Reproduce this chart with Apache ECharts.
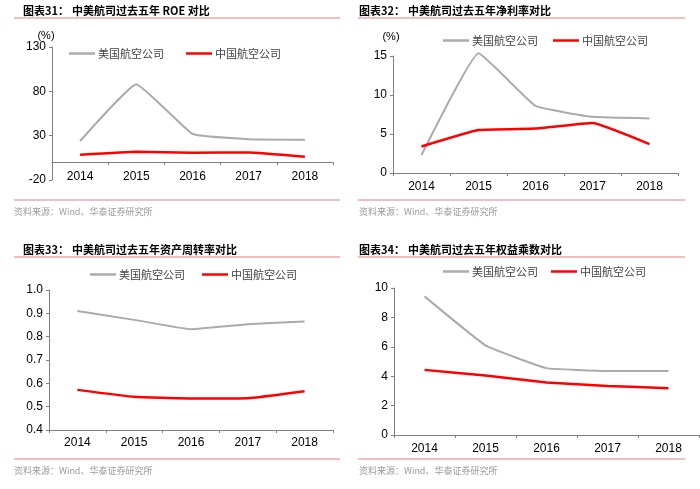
<!DOCTYPE html>
<html>
<head>
<meta charset="utf-8">
<script src="https://cdn.jsdelivr.net/npm/echarts@6/dist/echarts.min.js"></script>
<style>
html,body{margin:0;padding:0;background:#fff;}
#c{width:700px;height:489px;}
</style>
</head>
<body>
<div id="c"></div>
<script>
// ---- data ----
const years = ['2014', '2015', '2016', '2017', '2018'];
const seriesNames = ['美国航空公司', '中国航空公司'];
const roeUS = [24, 88, 32, 26, 25.5];
const roeCN = [8.6, 12, 10.8, 11, 6.3];
const marginUS = [2.3, 15.35, 8.6, 7.2, 7.0];
const marginCN = [3.4, 5.5, 5.7, 6.4, 3.7];
const turnoverUS = [0.91, 0.872, 0.832, 0.853, 0.865];
const turnoverCN = [0.572, 0.542, 0.535, 0.536, 0.566];
const multUS = [9.43, 6.1, 4.55, 4.36, 4.36];
const multCN = [4.43, 4.04, 3.57, 3.34, 3.18];
const roeRange = [-20, 130, 50];
const titles = [
  ['图表31：', '中美航司过去五年 ROE 对比'],
  ['图表32：', '中美航司过去五年净利率对比'],
  ['图表33：', '中美航司过去五年资产周转率对比'],
  ['图表34：', '中美航司过去五年权益乘数对比']
];
const sourceText = '资料来源：Wind、华泰证券研究所';

// ---- styles ----
const GRAY = '#ababab';
const RED = '#ff0000';
const AXIS = '#808080';
const RULE = '#ec7b7b';
const latin = 'Liberation Sans, Arial, sans-serif';
const cjk = '"Noto Sans CJK SC", sans-serif';

const H = 489;
const chart = echarts.init(document.getElementById('c'));

const grids = [
  {left: 52, right: 367, top: 47, bottom: 309},
  {left: 393, right: 22, top: 56, bottom: 316},
  {left: 49, right: 367, top: 290, bottom: 59},
  {left: 394, width: 305, top: 288, bottom: 54}
];
// x axis of panel 1 sits at the value 0 of its y scale
const g0h = H - grids[0].top - grids[0].bottom;
const zeroOffset = -((0 - roeRange[0]) / (roeRange[1] - roeRange[0])) * g0h;

function xAxisBase(gi, margin, offset) {
  return {
    type: 'category', gridIndex: gi, data: years, boundaryGap: true,
    position: 'bottom', offset: offset || 0,
    axisLine: {show: true, onZero: false, lineStyle: {color: AXIS, width: 1}},
    axisTick: {show: true, length: 3, lineStyle: {color: AXIS}},
    axisLabel: {color: '#000', fontFamily: latin, fontSize: 12, margin: margin},
    splitLine: {show: false}
  };
}
const xAxes = [xAxisBase(0, 8, zeroOffset), xAxisBase(1, 8), xAxisBase(2, 7), xAxisBase(3, 8)];

function yAxisBase(gi, min, max, interval, fmt) {
  return {
    type: 'value', gridIndex: gi, min: min, max: max, interval: interval,
    axisLine: {show: true, lineStyle: {color: AXIS, width: 1}},
    axisTick: {show: true, length: 3, lineStyle: {color: AXIS}},
    axisLabel: {color: '#000', fontFamily: latin, fontSize: 12, margin: 6, formatter: fmt},
    splitLine: {show: false}
  };
}
const yAxes = [
  yAxisBase(0, roeRange[0], roeRange[1], roeRange[2]),
  yAxisBase(1, 0, 15, 5),
  yAxisBase(2, 0.4, 1.0, 0.1, v => v.toFixed(1)),
  yAxisBase(3, 0, 10, 2)
];

function lineSeries(name, data, gi, color, width) {
  return {
    type: 'line', name: name, data: data, xAxisIndex: gi, yAxisIndex: gi,
    symbol: 'none', smooth: 0.1, clip: false,
    color: color, itemStyle: {color: color},
    lineStyle: {color: color, width: width}
  };
}
const series = [
  lineSeries(seriesNames[0], roeUS, 0, GRAY, 2),
  lineSeries(seriesNames[1], roeCN, 0, RED, 2.5),
  lineSeries(seriesNames[0], marginUS, 1, GRAY, 2),
  lineSeries(seriesNames[1], marginCN, 1, RED, 2.5),
  lineSeries(seriesNames[0], turnoverUS, 2, GRAY, 2),
  lineSeries(seriesNames[1], turnoverCN, 2, RED, 2.5),
  lineSeries(seriesNames[0], multUS, 3, GRAY, 2),
  lineSeries(seriesNames[1], multCN, 3, RED, 2.5)
];

function legend(left, top, gap) {
  return {
    left: left, top: top, orient: 'horizontal', data: seriesNames,
    icon: 'rect', itemWidth: 26, itemHeight: 2.5, itemGap: gap,
    selectedMode: false, padding: 0,
    textStyle: {fontFamily: cjk, fontSize: 11, color: '#444', padding: [0, 0, 0, -2]}
  };
}
const legends = [
  legend(69, 48, 22),
  legend(443, 35, 15),
  legend(90, 269, 17),
  legend(443, 266, 13)
];

// ---- decoration (titles, rules, source notes) ----
const panels = [
  {x0: 14, x1: 340, tx: 23, mx: 72, ty: 11, rule1: 18, rule2: 200, sy: 212, sx: 14},
  {x0: 358, x1: 685, tx: 359, mx: 408, ty: 11, rule1: 18, rule2: 200, sy: 212, sx: 359},
  {x0: 14, x1: 340, tx: 23, mx: 72, ty: 250, rule1: 257, rule2: 459, sy: 471, sx: 14},
  {x0: 358, x1: 685, tx: 359, mx: 408, ty: 250, rule1: 257, rule2: 459, sy: 471, sx: 359}
];
const graphic = [];
panels.forEach((p, i) => {
  graphic.push({type: 'text', x: p.tx, y: p.ty, style: {text: titles[i][0], font: 'bold 11px ' + cjk, fill: '#000', align: 'left', verticalAlign: 'middle'}});
  graphic.push({type: 'text', x: p.mx, y: p.ty, style: {text: titles[i][1], font: 'bold 11px ' + cjk, fill: '#000', align: 'left', verticalAlign: 'middle'}});
  graphic.push({type: 'line', shape: {x1: p.x0, y1: p.rule1, x2: p.x1, y2: p.rule1}, style: {stroke: RULE, lineWidth: 1}});
  graphic.push({type: 'line', shape: {x1: p.x0, y1: p.rule2, x2: p.x1, y2: p.rule2}, style: {stroke: RULE, lineWidth: 1}});
  graphic.push({type: 'text', x: p.sx, y: p.sy, style: {text: sourceText, font: '9px ' + cjk, fill: '#9a9a9a', align: 'left', verticalAlign: 'middle'}});
});
graphic.push({type: 'text', x: 46, y: 36, style: {text: '(%)', font: '11px ' + latin, fill: '#000', align: 'center', verticalAlign: 'middle'}});
graphic.push({type: 'text', x: 391, y: 37, style: {text: '(%)', font: '11px ' + latin, fill: '#000', align: 'center', verticalAlign: 'middle'}});

chart.setOption({
  animation: false,
  backgroundColor: '#fff',
  grid: grids,
  xAxis: xAxes,
  yAxis: yAxes,
  legend: legends,
  series: series,
  graphic: graphic
});
</script>
</body>
</html>
